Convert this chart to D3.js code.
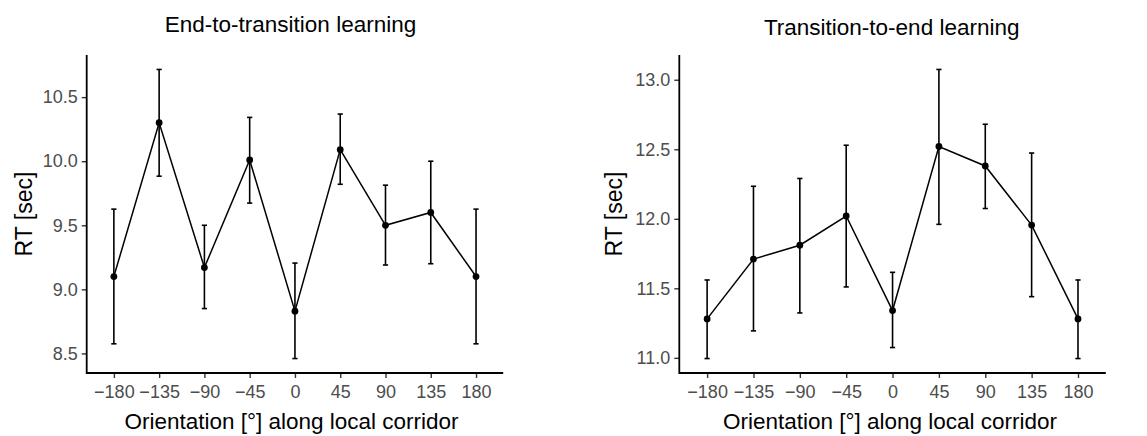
<!DOCTYPE html>
<html>
<head>
<meta charset="utf-8">
<script src="https://cdn.jsdelivr.net/npm/d3@7"></script>
<style>
  body { margin: 0; background: #fff; }
  svg text { font-family: "Liberation Sans", Arial, sans-serif; }
</style>
</head>
<body>
<div id="chart"></div>
<script>
// orientation categories (discrete x axis)
const orientations = [-180, -135, -90, -45, 0, 45, 90, 135, 180];
const tickLabels = ["\u2212180", "\u2212135", "\u221290", "\u221245", "0", "45", "90", "135", "180"];

// End-to-transition learning
const e2tMean  = [9.10, 10.30, 9.17, 10.01, 8.83, 10.09, 9.50, 9.60, 9.10];
const e2tLower = [8.575, 9.883, 8.85, 9.673, 8.46, 9.82, 9.19, 9.20, 8.575];
const e2tUpper = [9.626, 10.716, 9.50, 10.342, 9.205, 10.368, 9.813, 10.00, 9.626];
const e2tTicks = [8.5, 9.0, 9.5, 10.0, 10.5];

// Transition-to-end learning
const t2eMean  = [11.28, 11.71, 11.81, 12.02, 11.34, 12.52, 12.38, 11.955, 11.28];
const t2eLower = [10.995, 11.194, 11.323, 11.51, 11.074, 11.96, 12.074, 11.44, 10.995];
const t2eUpper = [11.56, 12.234, 12.29, 12.529, 11.615, 13.074, 12.68, 12.473, 11.56];
const t2eTicks = [11.0, 11.5, 12.0, 12.5, 13.0];

const W = 1147, H = 436;
const svg = d3.select("#chart").append("svg")
    .attr("width", W)
    .attr("height", H);

function drawPanel(p) {
    const top = 55, bottom = 373;
    const { left, right } = p;
    const g = svg.append("g");

    const data = orientations.map((o, i) => ({ o, m: p.mean[i], lo: p.lower[i], hi: p.upper[i] }));

    const x = d3.scalePoint()
        .domain(orientations)
        .range([left, right])
        .padding(0.6);

    // ggplot style 5% expansion
    const ymin = d3.min(p.lower), ymax = d3.max(p.upper);
    const pad = (ymax - ymin) * 0.05;
    const y = d3.scaleLinear()
        .domain([ymin - pad, ymax + pad])
        .range([bottom, top]);

    // error bars
    const eb = g.selectAll(".eb").data(data).enter().append("g");
    eb.append("line")
        .attr("x1", d => x(d.o)).attr("x2", d => x(d.o))
        .attr("y1", d => y(d.lo)).attr("y2", d => y(d.hi))
        .attr("stroke", "#000").attr("stroke-width", 1.6);
    [d => d.lo, d => d.hi].forEach(f => {
        eb.append("line")
            .attr("x1", d => x(d.o) - 2.6).attr("x2", d => x(d.o) + 2.6)
            .attr("y1", d => y(f(d))).attr("y2", d => y(f(d)))
            .attr("stroke", "#000").attr("stroke-width", 1.6);
    });

    // mean line + points
    g.append("path")
        .datum(data)
        .attr("fill", "none")
        .attr("stroke", "#000")
        .attr("stroke-width", 1.5)
        .attr("d", d3.line().x(d => x(d.o)).y(d => y(d.m)));

    g.selectAll("circle").data(data).enter().append("circle")
        .attr("cx", d => x(d.o))
        .attr("cy", d => y(d.m))
        .attr("r", 3.4)
        .attr("fill", "#000");

    // x axis
    const xAxis = g.append("g")
        .attr("transform", `translate(0,${bottom})`)
        .call(d3.axisBottom(x).tickSize(5).tickPadding(7.5)
            .tickFormat((d, i) => tickLabels[i]));
    xAxis.select(".domain").remove();
    xAxis.selectAll("line").attr("stroke", "#333").attr("stroke-width", 1.4);
    xAxis.selectAll("text").attr("fill", "#4d4d4d").style("font-size", "18px");

    // y axis
    const yAxis = g.append("g")
        .attr("transform", `translate(${left},0)`)
        .call(d3.axisLeft(y).tickValues(p.ticks).tickSize(5).tickPadding(4)
            .tickFormat(d3.format(".1f")));
    yAxis.select(".domain").remove();
    yAxis.selectAll("line").attr("stroke", "#333").attr("stroke-width", 1.4);
    yAxis.selectAll("text").attr("fill", "#4d4d4d").style("font-size", "18px");

    // axis lines
    g.append("line")
        .attr("x1", left).attr("x2", right)
        .attr("y1", bottom).attr("y2", bottom)
        .attr("stroke", "#000").attr("stroke-width", 1.8);
    g.append("line")
        .attr("x1", left).attr("x2", left)
        .attr("y1", top).attr("y2", bottom + 0.9)
        .attr("stroke", "#000").attr("stroke-width", 1.8);

    // titles
    g.append("text")
        .attr("x", p.titleX)
        .attr("y", p.titleY)
        .attr("text-anchor", "middle")
        .style("font-size", "22.5px")
        .text(p.title);

    g.append("text")
        .attr("x", p.xTitleX)
        .attr("y", 429)
        .attr("text-anchor", "middle")
        .style("font-size", "22.5px")
        .text("Orientation [°] along local corridor");

    g.append("text")
        .attr("transform", `translate(${p.yTitleX},${(top + bottom) / 2}) rotate(-90)`)
        .attr("text-anchor", "middle")
        .style("font-size", "23px")
        .text("RT [sec]");
}

drawPanel({
    left: 86.7, right: 503.2, title: "End-to-transition learning",
    titleX: 290.5, titleY: 31.7, xTitleX: 291.5, yTitleX: 31.5,
    mean: e2tMean, lower: e2tLower, upper: e2tUpper, ticks: e2tTicks
});
drawPanel({
    left: 679.3, right: 1105.8, title: "Transition-to-end learning",
    titleX: 891.7, titleY: 35, xTitleX: 890, yTitleX: 621.5,
    mean: t2eMean, lower: t2eLower, upper: t2eUpper, ticks: t2eTicks
});
</script>
</body>
</html>
